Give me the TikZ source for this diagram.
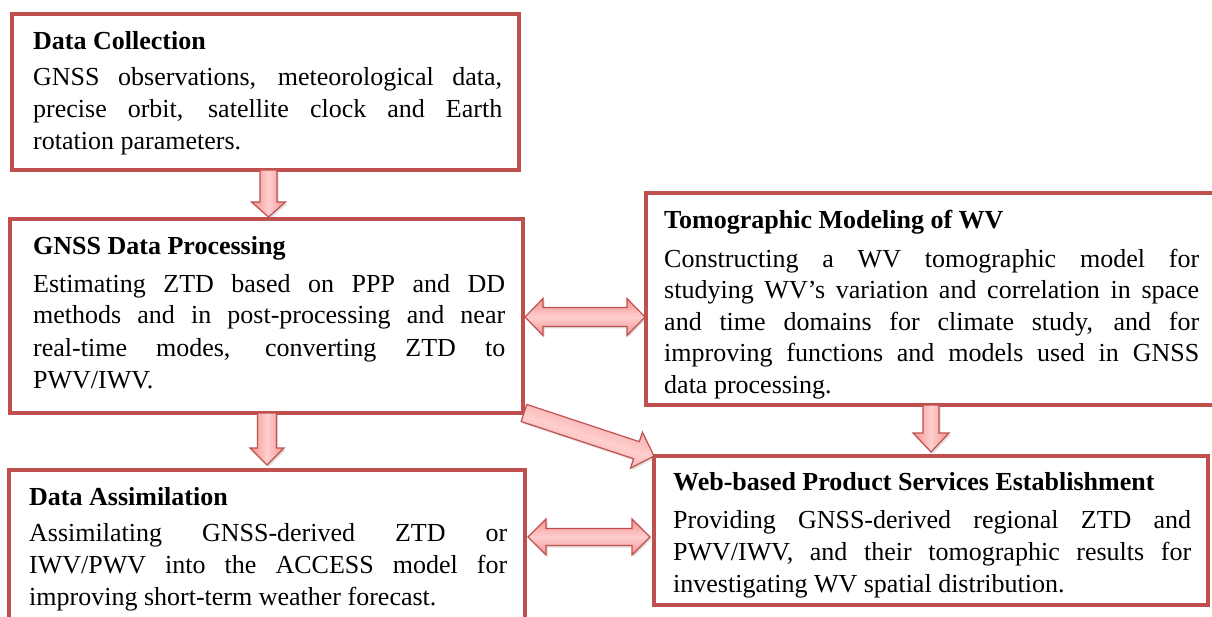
\documentclass[tikz,border=0pt]{standalone}
\usepackage{fontspec}
\setmainfont{Liberation Serif}
\usetikzlibrary{calc,shadows}
\definecolor{boxred}{RGB}{192,80,77}
\definecolor{pinkA}{RGB}{255,206,206}
\definecolor{pinkB}{RGB}{242,145,145}
\tikzset{
  box/.style={draw=boxred, line width=4pt, fill=white, inner sep=0pt, outer sep=0pt, rectangle},
  ttl/.style={anchor=base west, inner sep=0pt, font=\fontsize{26}{32}\selectfont\bfseries},
  bdy/.style={anchor=base west, inner sep=0pt, align=left, font=\fontsize{26}{32}\selectfont},
  barrow/.style={draw=boxred, line width=1.2pt, line join=miter, top color=pinkB, bottom color=pinkB, middle color=pinkA,
    drop shadow={opacity=0.25, shadow xshift=1.5pt, shadow yshift=-2pt}}
}
% single block arrow: #1 shading angle, #2 from, #3 to, #4 half shaft, #5 half head, #6 head length
\newcommand\sblk[6]{%
  \coordinate (hb) at ($(#3)!#6pt!(#2)$);
  \path[barrow, shading angle=#1] ($(#2)!#4pt!90:(#3)$) -- ($(hb)!#4pt!-90:(#2)$) -- ($(hb)!#5pt!-90:(#2)$) -- (#3)
    -- ($(hb)!#5pt!90:(#2)$) -- ($(hb)!#4pt!90:(#2)$) -- ($(#2)!#4pt!-90:(#3)$) -- cycle;
}
% double block arrow: #1 from, #2 to, #3 half shaft, #4 half head, #5 head length
\newcommand\dblk[5]{%
  \coordinate (ha) at ($(#1)!#5pt!(#2)$);
  \coordinate (hb) at ($(#2)!#5pt!(#1)$);
  \path[barrow] (#1) -- ($(ha)!#4pt!90:(#2)$) -- ($(ha)!#3pt!90:(#2)$) -- ($(hb)!#3pt!-90:(#1)$) -- ($(hb)!#4pt!-90:(#1)$) -- (#2)
    -- ($(hb)!#4pt!90:(#1)$) -- ($(hb)!#3pt!90:(#1)$) -- ($(ha)!#3pt!-90:(#2)$) -- ($(ha)!#4pt!-90:(#2)$) -- cycle;
}
\begin{document}
\begin{tikzpicture}[x=1pt,y=-1pt]
\useasboundingbox (0,0) rectangle (1212,617);
\fill[white] (0,0) rectangle (1212,617);
\clip (0,0) rectangle (1212,617);

% boxes
\node[box, minimum width=507pt, minimum height=156pt] (b1) at (265.5,92) {};
\node[box, minimum width=513pt, minimum height=194pt] (b2) at (266.5,316) {};
\node[box, minimum width=516pt, minimum height=190pt] (b3) at (267,565) {};
\node[box, minimum width=584pt, minimum height=212pt] (b4) at (938,299) {};
\node[box, minimum width=554pt, minimum height=149pt] (b5) at (931,530.5) {};

% texts (body nodes are anchored at the baseline of their last line)
\node[ttl] (t1) at (33,50) {Data Collection};
\node[bdy] (x1) at (33,150) {\makebox[469pt][s]{GNSS observations, meteorological data,}\\
  \makebox[469pt][s]{precise orbit, satellite clock and Earth}\\
  rotation parameters.};

\node[ttl] (t2) at (33,255) {GNSS Data Processing};
\node[bdy] (x2) at (33,388) {\makebox[472pt][s]{Estimating ZTD based on PPP and DD}\\
  \makebox[472pt][s]{methods and in post-processing and near}\\
  \makebox[472pt][s]{real-time modes, converting ZTD to}\\
  PWV/IWV.};

\node[ttl] (t3) at (29,505) {Data Assimilation};
\node[bdy] (x3) at (29,605) {\makebox[478pt][s]{Assimilating GNSS-derived ZTD or}\\
  \makebox[478pt][s]{IWV/PWV into the ACCESS model for}\\
  improving short-term weather forecast.};

\node[ttl] (t4) at (664,229) {Tomographic Modeling of WV};
\node[bdy, font=\fontsize{26}{31.5}\selectfont] (x4) at (664,393) {\makebox[535pt][s]{Constructing a WV tomographic model for}\\
  \makebox[535pt][s]{studying WV’s variation and correlation in space}\\
  \makebox[535pt][s]{and time domains for climate study, and for}\\
  \makebox[535pt][s]{improving functions and models used in GNSS}\\
  data processing.};

\node[ttl] (t5) at (673,490) {Web-based Product Services Establishment};
\node[bdy] (x5) at (673,592) {\makebox[518pt][s]{Providing GNSS-derived regional ZTD and}\\
  \makebox[518pt][s]{PWV/IWV, and their tomographic results for}\\
  investigating WV spatial distribution.};

% connector end points
\coordinate (a1s) at ($(b1.south)+(3,0)$);
\coordinate (a1e) at ($(b2.north)+(2,-2)$);
\coordinate (a2s) at ($(b2.south)+(0.5,0)$);
\coordinate (a2e) at ($(b3.north)+(0,-5)$);
\coordinate (a3s) at ($(b4.south)+(-7,0)$);
\coordinate (a3e) at ($(b5.north)+(0,-4)$);
\coordinate (d1s) at ($(b2.east)+(2,1)$);
\coordinate (d1e) at ($(b2.east -| b4.west)+(-1,1)$);
\coordinate (d2s) at ($(b3.north east)+(3,67)$);
\coordinate (d2e) at ($(b5.west)+(-4,6.5)$);
\coordinate (gs) at ($(b2.south east)+(1,0)$);
\coordinate (ge) at (b5.north west);

% connectors
\sblk{90}{a1s}{a1e}{8.5}{17}{15}
\sblk{90}{a2s}{a2e}{9.5}{17}{17}
\sblk{90}{a3s}{a3e}{8}{18}{19}
\sblk{-18}{gs}{ge}{9}{19}{18.5}
\dblk{d1s}{d1e}{9.5}{18.5}{18}
\dblk{d2s}{d2e}{8.5}{18}{18}
\end{tikzpicture}
\end{document}
